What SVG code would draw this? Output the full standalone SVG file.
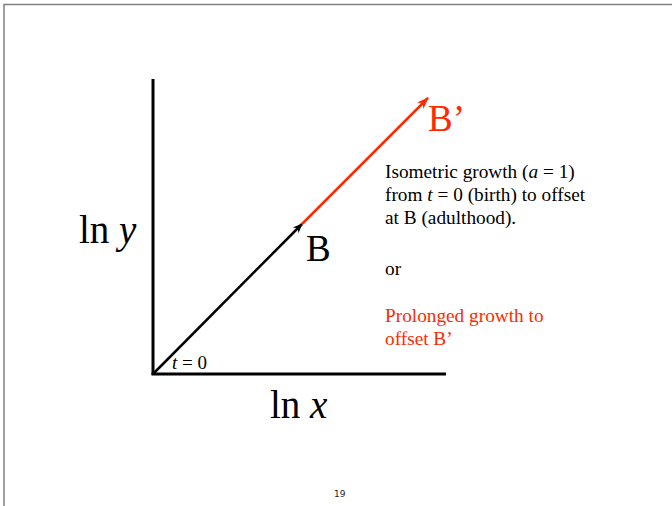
<svg xmlns="http://www.w3.org/2000/svg" width="672" height="506" viewBox="0 0 672 506">
<style>
.t{font-family:"Liberation Serif","Times New Roman",serif;fill:#000}
.r{fill:#ff2a00}
.big{font-size:39px}
.body{font-size:19.3px}
</style>
<defs>
<marker id="ab" markerWidth="10" markerHeight="10" refX="9" refY="5" orient="auto" markerUnits="userSpaceOnUse">
<path d="M0,1 L10,5 L0,9 L3,5 Z" fill="#000"/>
</marker>
<marker id="ar" markerWidth="12" markerHeight="12" refX="11" refY="6" orient="auto" markerUnits="userSpaceOnUse">
<path d="M0,1.5 L12,6 L0,10.5 L3.5,6 Z" fill="#ff2a00"/>
</marker>
</defs>
<rect width="672" height="506" fill="#fff"/>
<path d="M4,506 V4.5 H672" fill="none" stroke="#808080" stroke-width="1.5"/>
<g id="axes">
<line x1="153" y1="79" x2="153" y2="375" stroke="#000" stroke-width="3"/>
<line x1="151.5" y1="374" x2="446" y2="374" stroke="#000" stroke-width="3"/>
</g>
<g id="connectors">
<line x1="153" y1="374" x2="302" y2="224" stroke="#000" stroke-width="2.5" marker-end="url(#ab)"/>
<line x1="302" y1="224" x2="428" y2="98" stroke="#ff2a00" stroke-width="2.5" marker-end="url(#ar)"/>
</g>
<g id="labels">
<text class="t big" x="79" y="243">ln <tspan font-style="italic">y</tspan></text>
<text class="t big" x="270" y="418">ln <tspan font-style="italic">x</tspan></text>
<text class="t" x="172" y="369" font-size="19"><tspan font-style="italic">t</tspan> = 0</text>
<text class="t" x="306" y="261" font-size="37">B</text>
<text class="t r" x="428" y="131" font-size="37">B’</text>
</g>
<g id="desc">
<text class="t body" x="385" y="178">Isometric growth (<tspan font-style="italic">a</tspan> = 1)</text>
<text class="t body" x="385" y="201">from <tspan font-style="italic">t</tspan> = 0 (birth) to offset</text>
<text class="t body" x="385" y="224">at B (adulthood).</text>
<text class="t body" x="385" y="275">or</text>
<text class="t body r" x="385" y="322">Prolonged growth to</text>
<text class="t body r" x="385" y="345">offset B’</text>
</g>
<text x="334" y="497" font-family="'DejaVu Sans',sans-serif" font-size="9" fill="#222">19</text>
</svg>
